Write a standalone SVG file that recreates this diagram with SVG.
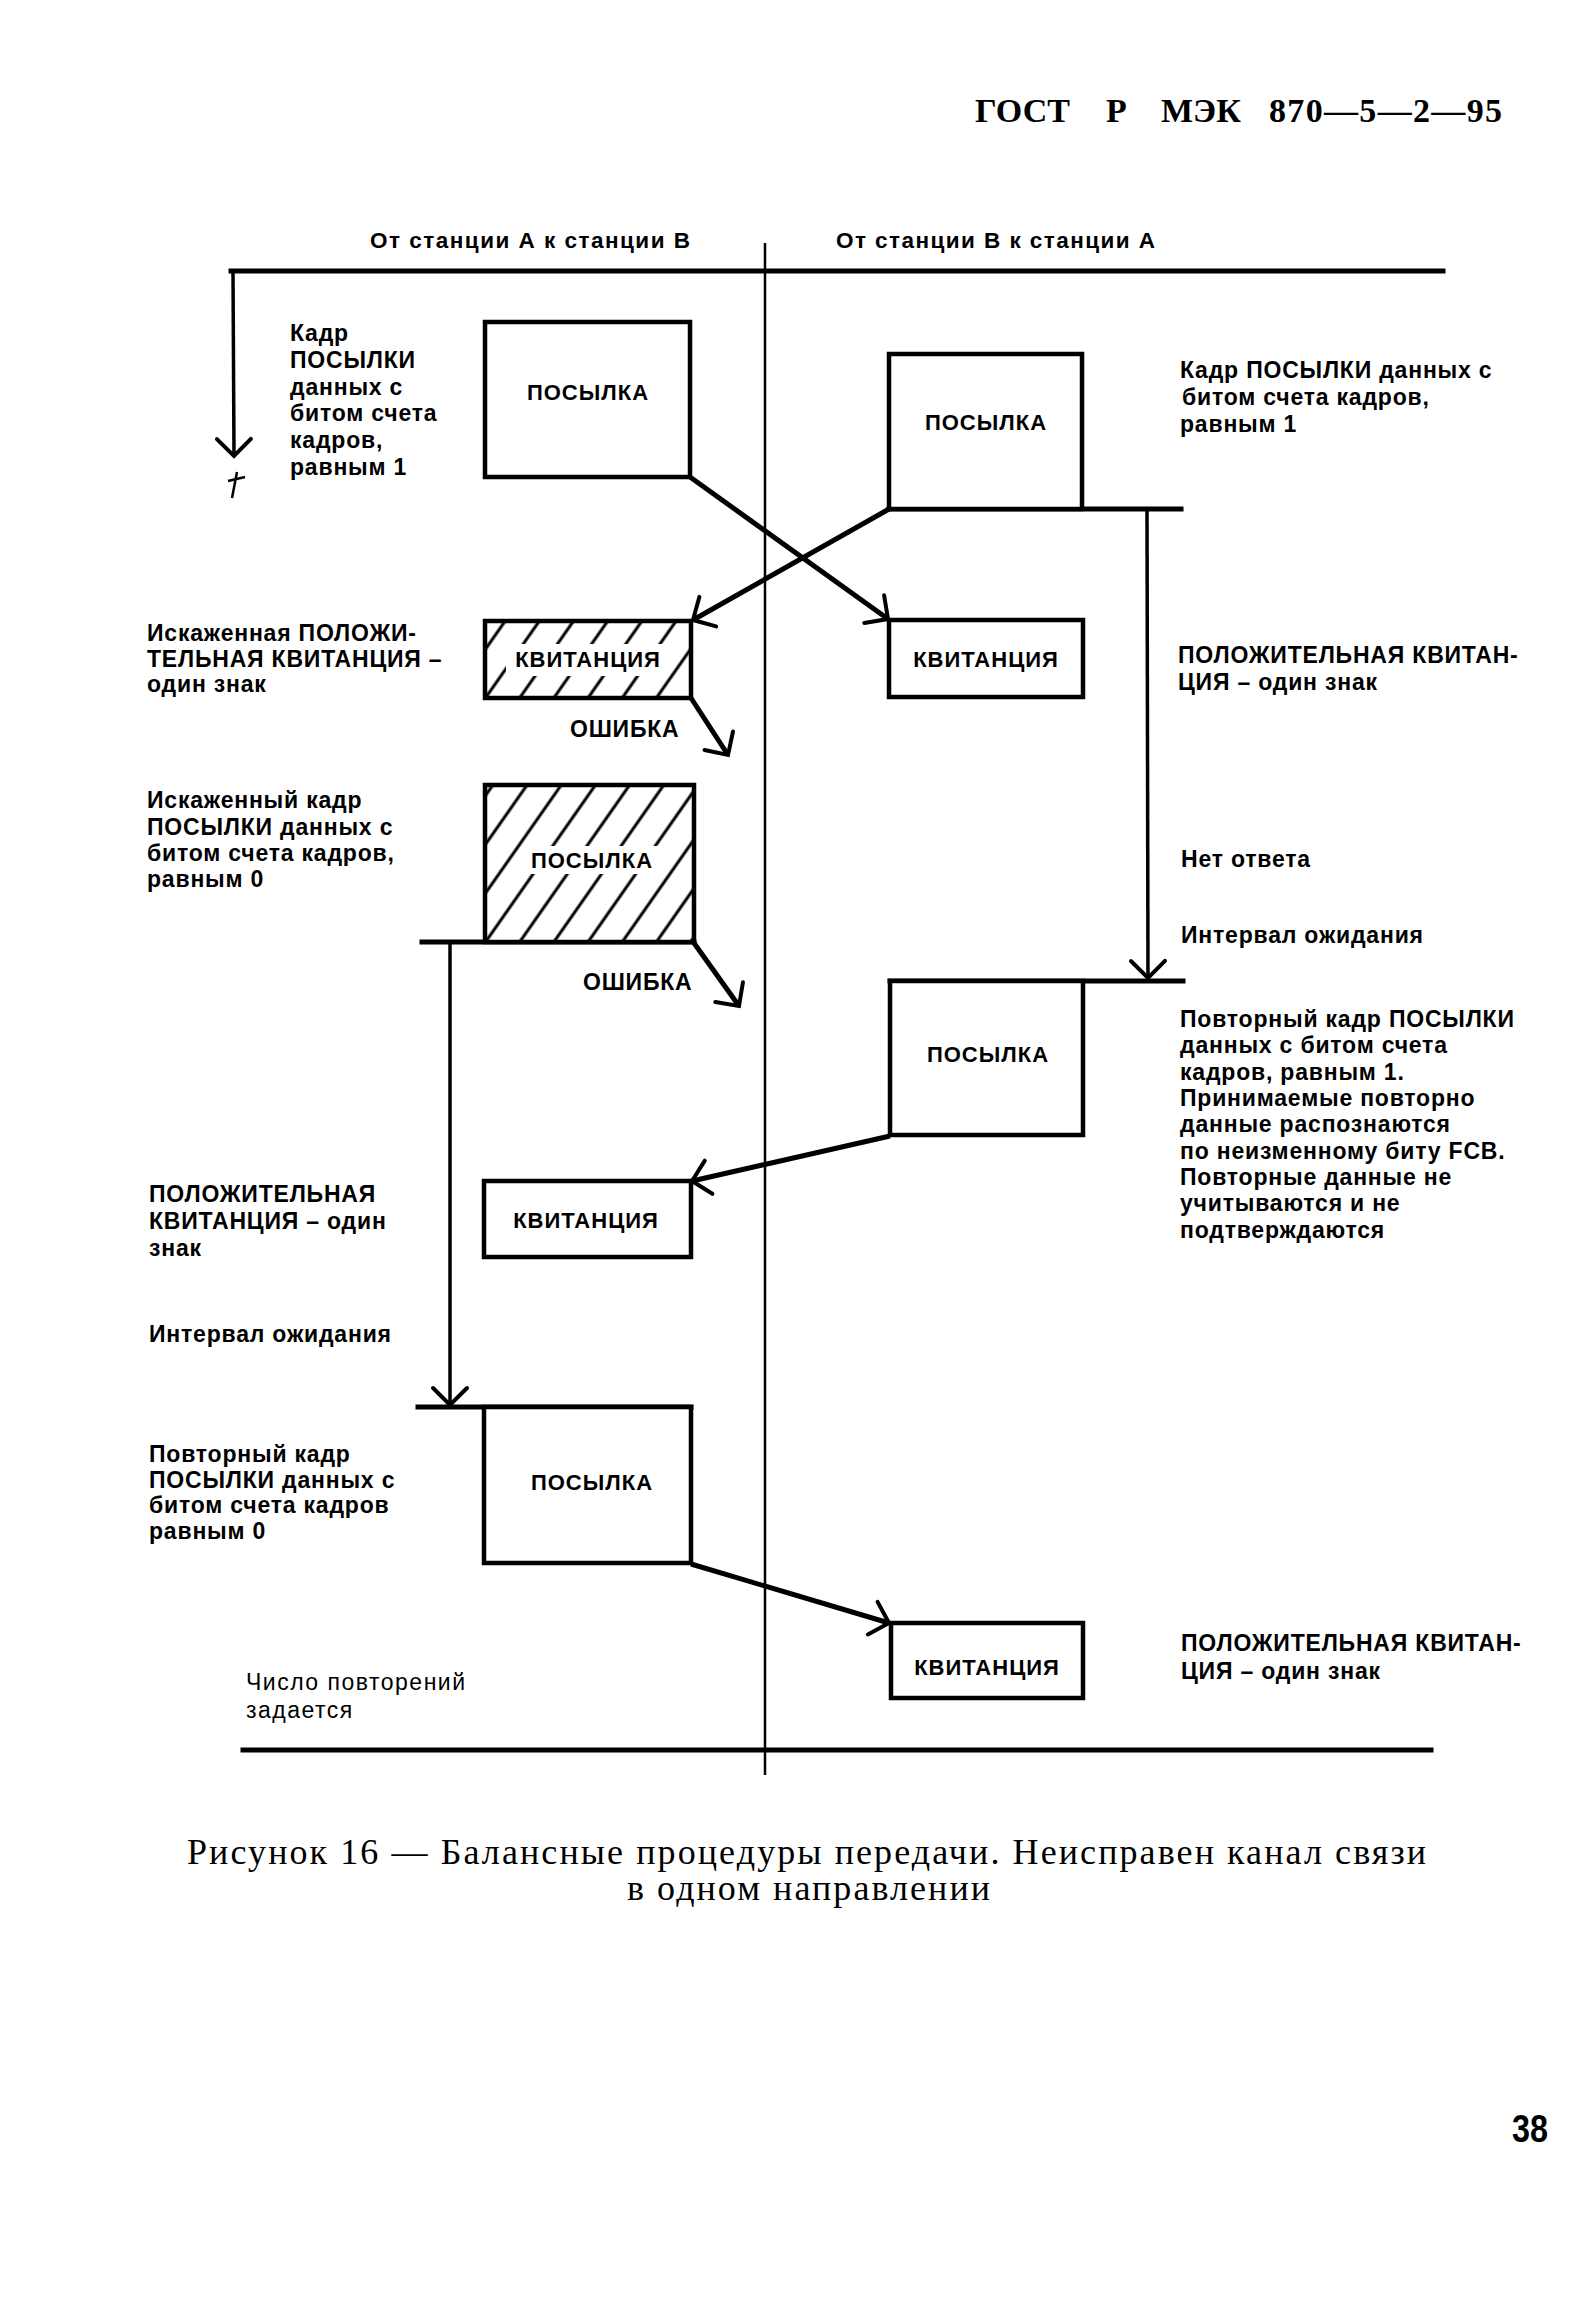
<svg xmlns="http://www.w3.org/2000/svg" width="1590" height="2317" viewBox="0 0 1590 2317">
<style>
.bg{fill:#fff}
.box{fill:#fff;stroke:#000;stroke-width:4.5}
.hbox{stroke:#000;stroke-width:4.5}
.rail{stroke:#000;stroke-width:5;fill:none;stroke-linecap:square}
.conn{stroke:#000;stroke-width:5;fill:none;marker-end:url(#ah)}
.vconn{stroke:#000;stroke-width:3.5;fill:none;marker-end:url(#ah)}
.lbl{font-family:"Liberation Sans",Arial,sans-serif;font-weight:bold;font-size:23px;letter-spacing:0.8px;fill:#000}
.lt{font-family:"Liberation Sans",Arial,sans-serif;font-weight:normal;font-size:23px;letter-spacing:1.5px;fill:#000}
.bt{font-family:"Liberation Sans",Arial,sans-serif;font-weight:bold;font-size:22px;letter-spacing:1px;fill:#000;text-anchor:middle}
.col{font-family:"Liberation Sans",Arial,sans-serif;font-weight:bold;font-size:22.5px;fill:#000}
.hdr{font-family:"Liberation Serif","Times New Roman",serif;font-weight:bold;font-size:34px;fill:#000}
.cap{font-family:"Liberation Serif","Times New Roman",serif;font-size:36px;fill:#000}
.pg{font-family:"Liberation Sans",Arial,sans-serif;font-weight:bold;font-size:38px;fill:#000}
.wh{fill:#fff}
</style>
<defs>
<marker id="ah" markerUnits="userSpaceOnUse" viewBox="-30 -30 60 60" markerWidth="60" markerHeight="60" refX="0" refY="0" orient="auto" overflow="visible">
<path d="M-17,-17 L0,0 L-17,17" fill="none" stroke="#000" stroke-width="4" stroke-linecap="round"/>
</marker>
<pattern id="hatch" patternUnits="userSpaceOnUse" width="28" height="28" patternTransform="rotate(35)">
<rect width="28" height="28" fill="#fff"/>
<line x1="14" y1="-2" x2="14" y2="30" stroke="#000" stroke-width="3"/>
</pattern>
</defs>
<rect class="bg" x="0" y="0" width="1590" height="2317"/>

<g id="header">
<text class="hdr" x="975" y="122">ГОСТ</text>
<text class="hdr" x="1106" y="122">Р</text>
<text class="hdr" x="1161" y="122">МЭК</text>
<text class="hdr" x="1269" y="122" textLength="233" lengthAdjust="spacing">870—5—2—95</text>
</g>

<g id="column-headings">
<text class="col" x="370" y="248" textLength="320" lengthAdjust="spacing">От станции А к станции В</text>
<text class="col" x="836" y="248" textLength="319" lengthAdjust="spacing">От станции В к станции А</text>
</g>

<g id="frame">
<line class="rail" x1="231" y1="271" x2="1443" y2="271"/>
<line x1="765" y1="243" x2="765" y2="1775" stroke="#000" stroke-width="2.5"/>
<line class="rail" x1="243" y1="1750" x2="1431" y2="1750"/>
</g>

<g id="connectors">
<line class="vconn" x1="233" y1="271" x2="234" y2="456"/>
<path d="M237,472 L232,498 M228,481 L245,477" stroke="#000" stroke-width="2.5" fill="none"/>
<line class="rail" x1="889" y1="509" x2="1181" y2="509"/>
<line class="vconn" x1="1147" y1="511" x2="1148" y2="978"/>
<line class="rail" x1="890" y1="981" x2="1183" y2="981"/>
<line class="conn" x1="690" y1="477" x2="888" y2="619"/>
<line class="conn" x1="889" y1="509" x2="693" y2="620"/>
<line class="conn" x1="691" y1="698" x2="728" y2="755"/>
<line class="rail" x1="422" y1="942" x2="694" y2="942"/>
<line class="conn" x1="694" y1="943" x2="739" y2="1006"/>
<line class="vconn" x1="450" y1="942" x2="450" y2="1405"/>
<line class="rail" x1="418" y1="1407" x2="691" y2="1407"/>
<line class="conn" x1="890" y1="1136" x2="692" y2="1181"/>
<line class="conn" x1="691" y1="1564" x2="889" y2="1623"/>
</g>

<g id="node-send-a1">
<rect class="box" x="485" y="322" width="205" height="155"/>
<text class="bt" x="588" y="400">ПОСЫЛКА</text>
<text class="lbl" x="290" y="341">Кадр</text>
<text class="lbl" x="290" y="368">ПОСЫЛКИ</text>
<text class="lbl" x="290" y="395">данных с</text>
<text class="lbl" x="290" y="421">битом счета</text>
<text class="lbl" x="290" y="448">кадров,</text>
<text class="lbl" x="290" y="475">равным 1</text>
</g>

<g id="node-send-b1">
<rect class="box" x="889" y="354" width="193" height="155"/>
<text class="bt" x="986" y="430">ПОСЫЛКА</text>
<text class="lbl" x="1180" y="378">Кадр ПОСЫЛКИ данных с</text>
<text class="lbl" x="1182" y="405">битом счета кадров,</text>
<text class="lbl" x="1180" y="432">равным 1</text>
</g>

<g id="node-ack-a-corrupt">
<rect class="hbox" x="485" y="621" width="206" height="77" fill="url(#hatch)"/>
<rect class="wh" x="506" y="644" width="164" height="32"/>
<text class="bt" x="588" y="667">КВИТАНЦИЯ</text>
<text class="lbl" x="147" y="641">Искаженная ПОЛОЖИ-</text>
<text class="lbl" x="147" y="667">ТЕЛЬНАЯ КВИТАНЦИЯ –</text>
<text class="lbl" x="147" y="692">один знак</text>
<text class="lbl" x="570" y="737">ОШИБКА</text>
</g>

<g id="node-ack-b1">
<rect class="box" x="889" y="620" width="194" height="77"/>
<text class="bt" x="986" y="667">КВИТАНЦИЯ</text>
<text class="lbl" x="1178" y="663">ПОЛОЖИТЕЛЬНАЯ КВИТАН-</text>
<text class="lbl" x="1178" y="690">ЦИЯ – один знак</text>
</g>

<g id="node-send-a-corrupt">
<rect class="hbox" x="485" y="785" width="209" height="157" fill="url(#hatch)"/>
<rect class="wh" x="526" y="846" width="132" height="28"/>
<text class="bt" x="592" y="868">ПОСЫЛКА</text>
<text class="lbl" x="147" y="808">Искаженный кадр</text>
<text class="lbl" x="147" y="835">ПОСЫЛКИ данных с</text>
<text class="lbl" x="147" y="861">битом счета кадров,</text>
<text class="lbl" x="147" y="887">равным 0</text>
<text class="lbl" x="583" y="990">ОШИБКА</text>
</g>

<g id="node-timeout-b">
<text class="lbl" x="1181" y="867">Нет ответа</text>
<text class="lbl" x="1181" y="943">Интервал ожидания</text>
</g>

<g id="node-send-b2">
<rect class="box" x="890" y="981" width="193" height="154"/>
<text class="bt" x="988" y="1062">ПОСЫЛКА</text>
<text class="lbl" x="1180" y="1027">Повторный кадр ПОСЫЛКИ</text>
<text class="lbl" x="1180" y="1053">данных с битом счета</text>
<text class="lbl" x="1180" y="1080">кадров, равным 1.</text>
<text class="lbl" x="1180" y="1106">Принимаемые повторно</text>
<text class="lbl" x="1180" y="1132">данные распознаются</text>
<text class="lbl" x="1180" y="1159">по неизменному биту FCB.</text>
<text class="lbl" x="1180" y="1185">Повторные данные не</text>
<text class="lbl" x="1180" y="1211">учитываются и не</text>
<text class="lbl" x="1180" y="1238">подтверждаются</text>
</g>

<g id="node-ack-a2">
<rect class="box" x="484" y="1181" width="207" height="76"/>
<text class="bt" x="586" y="1228">КВИТАНЦИЯ</text>
<text class="lbl" x="149" y="1202">ПОЛОЖИТЕЛЬНАЯ</text>
<text class="lbl" x="149" y="1229">КВИТАНЦИЯ – один</text>
<text class="lbl" x="149" y="1256">знак</text>
</g>

<g id="node-timeout-a">
<text class="lbl" x="149" y="1342">Интервал ожидания</text>
</g>

<g id="node-send-a2">
<rect class="box" x="484" y="1407" width="207" height="156"/>
<text class="bt" x="592" y="1490">ПОСЫЛКА</text>
<text class="lbl" x="149" y="1462">Повторный кадр</text>
<text class="lbl" x="149" y="1488">ПОСЫЛКИ данных с</text>
<text class="lbl" x="149" y="1513">битом счета кадров</text>
<text class="lbl" x="149" y="1539">равным 0</text>
</g>

<g id="node-ack-b2">
<rect class="box" x="891" y="1623" width="192" height="75"/>
<text class="bt" x="987" y="1675">КВИТАНЦИЯ</text>
<text class="lbl" x="1181" y="1651">ПОЛОЖИТЕЛЬНАЯ КВИТАН-</text>
<text class="lbl" x="1181" y="1679">ЦИЯ – один знак</text>
</g>

<g id="node-retries">
<text class="lt" x="246" y="1690">Число повторений</text>
<text class="lt" x="246" y="1718">задается</text>
</g>

<g id="caption">
<text class="cap" x="187" y="1864" textLength="1239" lengthAdjust="spacing">Рисунок 16 — Балансные процедуры передачи. Неисправен канал связи</text>
<text class="cap" x="627" y="1900" textLength="363" lengthAdjust="spacing">в одном направлении</text>
</g>

<g id="page-number">
<text class="pg" x="1512" y="2142" textLength="36" lengthAdjust="spacingAndGlyphs">38</text>
</g>
</svg>
